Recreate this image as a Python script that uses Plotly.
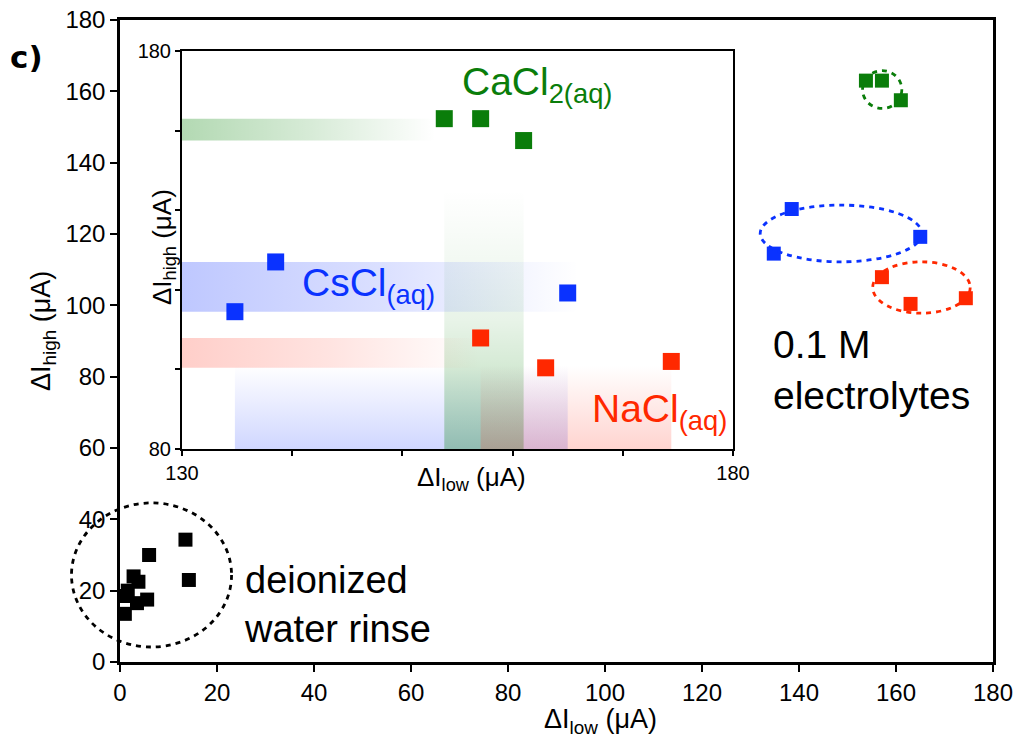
import plotly.graph_objects as go

# ---------------- data ----------------
water_x = [13.5, 6.0, 14.2, 2.8, 3.8, 1.6, 5.6, 3.5, 1.0, 1.0]
water_y = [34.3, 30.0, 23.0, 24.0, 22.5, 20.0, 17.5, 16.5, 18.5, 13.5]

cacl2_x = [153.8, 157.1, 161.0]
cacl2_y = [163.0, 163.0, 157.5]

cscl_x = [134.8, 138.5, 165.0]
cscl_y = [114.5, 127.0, 119.2]

nacl_x = [157.1, 163.0, 174.4]
nacl_y = [107.9, 100.4, 102.0]

main_ticks = [0, 20, 40, 60, 80, 100, 120, 140, 160, 180]
inset_xticks = [130, 140, 150, 160, 170, 180]
inset_xlabels = ["130", "", "", "", "", "180"]
inset_yticks = [80, 100, 120, 140, 160, 180]
inset_ylabels = ["80", "", "", "", "", "180"]

GREEN = "rgb(10,125,10)"
BLUE = "rgb(10,50,255)"
RED = "rgb(255,40,0)"

FONT = "Liberation Sans, Arial, sans-serif"

# page offset (default body margin) compensation
OFF = 8
W, H = 1023 - OFF, 742 - OFF
ML, MR, MT, MB = 120 - OFF, 30, 20 - OFF, 80
PW, PH = W - ML - MR, H - MT - MB

def px_x(p):
    return (p - OFF - ML) / PW

def px_y(p):
    return (H - MB - (p - OFF)) / PH

inset_dom_x = [px_x(182), px_x(733)]
inset_dom_y = [px_y(449), px_y(51)]

fig = go.Figure()

# ---------------- gradient bands in inset ----------------
def band(x0, x1, y0, y1, rgb, a0, orient, mid=None):
    if mid is None:
        cs = [[0, f"rgba({rgb},{a0})"], [1, f"rgba({rgb},0)"]]
    else:
        cs = [[0, f"rgba({rgb},{a0})"], [0.5, f"rgba({rgb},{mid})"], [1, f"rgba({rgb},0)"]]
    fig.add_trace(go.Scatter(
        x=[x0, x1, x1, x0, x0], y=[y0, y0, y1, y1, y0],
        mode="none", fill="toself",
        fillgradient=dict(type=orient, colorscale=cs),
        xaxis="x2", yaxis="y2", hoverinfo="skip", showlegend=False))

# vertical bands (x-range of each group, fading upward)
band(min(cscl_x), max(cscl_x), 80, 101, "40,70,255", 0.22, "vertical")
band(min(cacl2_x), max(cacl2_x), 80, 145, "0,128,0", 0.30, "vertical", 0.09)
band(min(nacl_x), max(nacl_x), 80, 101, "255,60,40", 0.22, "vertical")
# horizontal bands (y-range of each group, fading rightward)
band(130, 153, min(cacl2_y), max(cacl2_y), "0,128,0", 0.30, "horizontal", 0.16)
band(130, 166, min(cscl_y), max(cscl_y), "40,70,255", 0.30, "horizontal", 0.17)
band(130, 157, min(nacl_y), max(nacl_y), "255,60,40", 0.25, "horizontal", 0.14)

# ---------------- main markers ----------------
for xs, ys, c in [(water_x, water_y, "black"), (cacl2_x, cacl2_y, GREEN),
                  (cscl_x, cscl_y, BLUE), (nacl_x, nacl_y, RED)]:
    fig.add_trace(go.Scatter(x=xs, y=ys, mode="markers",
                             marker=dict(symbol="square", size=14, color=c),
                             showlegend=False, hoverinfo="skip"))
# inset markers
for xs, ys, c in [(cacl2_x, cacl2_y, GREEN), (cscl_x, cscl_y, BLUE), (nacl_x, nacl_y, RED)]:
    fig.add_trace(go.Scatter(x=xs, y=ys, mode="markers", xaxis="x2", yaxis="y2",
                             marker=dict(symbol="square", size=17, color=c),
                             showlegend=False, hoverinfo="skip"))

# ---------------- dashed ellipses (data units -> paper) ----------------
ellipses = [
    ((-10, 23, 4.2, 44.6), "black"),
    ((153.1, 161.2, 155.2, 165.8), GREEN),
    ((132.0, 165.3, 112.2, 128.1), BLUE),
    ((155.2, 175.3, 97.8, 112.2), RED),
]
for (x0, x1, y0, y1), c in ellipses:
    fig.add_shape(type="circle", xref="paper", yref="paper",
                  x0=x0 / 180, x1=x1 / 180, y0=y0 / 180, y1=y1 / 180,
                  line=dict(color=c, width=2.8, dash="5px,5px"))

# ---------------- annotations ----------------
ann = []
def txt(text, x, y, size, color="black", xref="x", yref="y", xanchor="left",
        yanchor="middle", angle=0, align="left", bold=False, family=FONT):
    ann.append(dict(text=text, x=x, y=y, xref=xref, yref=yref, xanchor=xanchor,
                    yanchor=yanchor, showarrow=False, textangle=angle, align=align,
                    font=dict(size=size, color=color, family=family,
                              weight="bold" if bold else "normal")))

txt("CaCl<sub>2(aq)</sub>", 155.2, 171.5, 39, GREEN, "x2", "y2")
txt("CsCl<sub>(aq)</sub>", 140.7, 121.0, 39, BLUE, "x2", "y2")
txt("NaCl<sub>(aq)</sub>", 167.0, 89.5, 39, RED, "x2", "y2")
txt("0.1 M<br>electrolytes", 134.2, 82.0, 39)
txt("deionized<br>water rinse", 25.2, 16.0, 38)
txt("c)", px_x(26), px_y(57), 31, xref="paper", yref="paper", xanchor="center",
    bold=True, family="DejaVu Sans")
txt("ΔI<sub>low</sub> (μA)", px_x(600), px_y(721), 27, xref="paper", yref="paper",
    xanchor="center")
txt("ΔI<sub>high</sub> (μA)", px_x(43), px_y(331), 27, xref="paper", yref="paper",
    xanchor="center", angle=-90)
txt("ΔI<sub>low</sub> (μA)", px_x(471), px_y(478), 26, xref="paper", yref="paper",
    xanchor="center")
txt("ΔI<sub>high</sub> (μA)", px_x(163), px_y(247), 26, xref="paper", yref="paper",
    xanchor="center", angle=-90)

axis_common = dict(showline=True, linecolor="black", mirror=True, showgrid=False,
                   zeroline=False, ticks="outside", tickcolor="black",
                   ticklabeloverflow="allow")
main_font = dict(family=FONT, size=24, color="black")
inset_font = dict(family=FONT, size=20, color="black")

fig.update_layout(
    width=W, height=H,
    margin=dict(l=ML, r=MR, t=MT, b=MB, autoexpand=False),
    paper_bgcolor="white", plot_bgcolor="white",
    annotations=ann,
    xaxis=dict(range=[0, 180], tickvals=main_ticks, linewidth=2.5, ticklen=7,
               tickwidth=2, domain=[0, 1], tickfont=main_font, **axis_common),
    yaxis=dict(range=[0, 180], tickvals=main_ticks, linewidth=2.5, ticklen=7,
               tickwidth=2, domain=[0, 1], tickfont=main_font, **axis_common),
    xaxis2=dict(range=[130, 180], tickvals=inset_xticks, ticktext=inset_xlabels,
                linewidth=2, ticklen=5, tickwidth=1.5, domain=inset_dom_x,
                anchor="y2", tickfont=inset_font, **axis_common),
    yaxis2=dict(range=[80, 180], tickvals=inset_yticks, ticktext=inset_ylabels,
                linewidth=2, ticklen=5, tickwidth=1.5, domain=inset_dom_y,
                anchor="x2", tickfont=inset_font, **axis_common),
    showlegend=False,
)

fig.write_html("out.html")
